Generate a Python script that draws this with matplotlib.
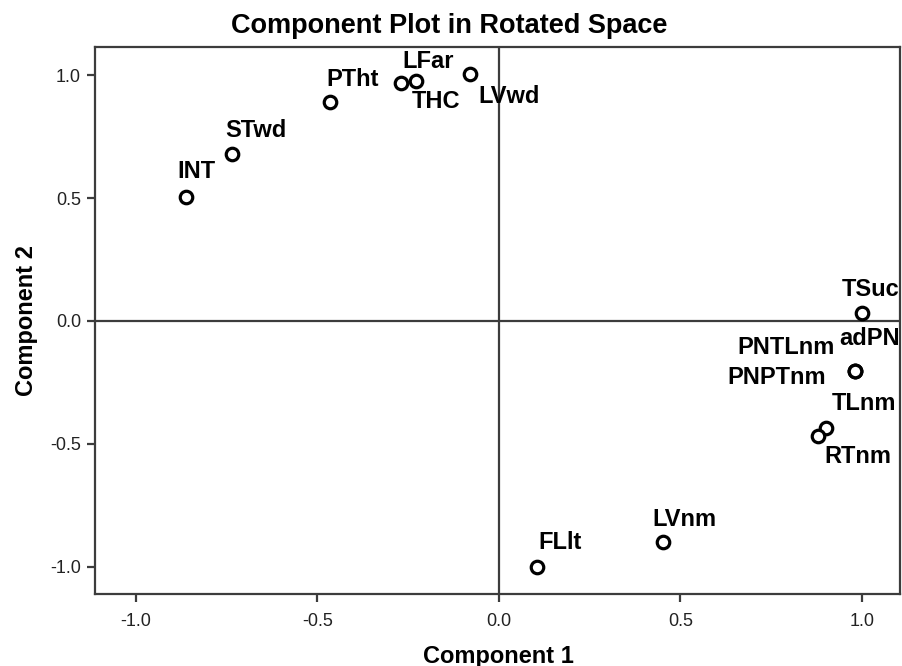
import matplotlib
matplotlib.use("Agg")
import matplotlib.pyplot as plt

# ---- data ----
names = ["INT", "STwd", "PTht", "LFar", "THC", "LVwd", "TSuc",
         "PNTLnm", "adPN", "PNPTnm", "TLnm", "RTnm", "FLlt", "LVnm"]
comp1 = [-0.863, -0.736, -0.466, -0.270, -0.229, -0.080, 0.999,
         0.981, 0.981, 0.981, 0.900, 0.880, 0.104, 0.451]
comp2 = [0.505, 0.679, 0.890, 0.969, 0.977, 1.003, 0.033,
         -0.202, -0.202, -0.202, -0.434, -0.467, -0.999, -0.897]
ticks = [-1.0, -0.5, 0.0, 0.5, 1.0]
tick_labels = ["-1.0", "-0.5", "0.0", "0.5", "1.0"]

# ---- label placement (pixel offsets from the marker, ha) ----
label_pos = {
    "INT": (-8, 25, "left"), "STwd": (-7, 23, "left"), "PTht": (-3, 23, "left"),
    "LFar": (1, 21, "left"), "THC": (-4, -21, "left"), "LVwd": (8, -22, "left"),
    "TSuc": (-20, 23, "left"), "PNTLnm": (-20, 23, "right"), "adPN": (-16, 32, "left"),
    "PNPTnm": (-29, -7, "right"), "TLnm": (6, 24, "left"), "RTnm": (6, -21, "left"),
    "FLlt": (2, 24, "left"), "LVnm": (-10, 22, "left"),
}

plt.rcParams["font.family"] = ["Liberation Sans", "DejaVu Sans"]
DPI = 100
fig = plt.figure(figsize=(9.02, 6.66), dpi=DPI)
ax = fig.add_axes([95 / 902, 1 - 594 / 666, (900 - 95) / 902, (594 - 47) / 666])

line_col = "#3c3c3c"
ax.axhline(0, color=line_col, lw=1.6, zorder=1)
ax.axvline(0, color=line_col, lw=1.6, zorder=1)

ax.plot(comp1, comp2, linestyle="none", marker="o", markersize=9,
        markerfacecolor="white", markeredgecolor="black", markeredgewidth=2.3, zorder=3)

px2pt = 72 / DPI
for n, x, y in zip(names, comp1, comp2):
    dx, dy, ha = label_pos[n]
    ax.annotate(n, (x, y), xytext=(dx * px2pt, dy * px2pt), textcoords="offset points",
                ha=ha, va="center", fontsize=17, fontweight="bold", color="black",
                annotation_clip=False, zorder=4)

ax.set_xlim(-1.113, 1.105)
ax.set_ylim(-1.11, 1.114)
ax.set_xticks(ticks)
ax.set_xticklabels(tick_labels)
ax.set_yticks(ticks)
ax.set_yticklabels(tick_labels)
ax.tick_params(axis="both", direction="out", length=6, width=1.6, color=line_col,
               labelsize=13, labelcolor="#222222", pad=4)
ax.tick_params(axis="x", pad=8)
for s in ax.spines.values():
    s.set_color(line_col)
    s.set_linewidth(1.6)

fig.text(449 / 902, 1 - 26 / 666, "Component Plot in Rotated Space", ha="center", va="center",
         fontsize=19.5, fontweight="bold")
fig.text(498 / 902, 1 - 656 / 666, "Component 1", ha="center", va="center",
         fontsize=17, fontweight="bold")
fig.text(27 / 902, 1 - 321 / 666, "Component 2", ha="center", va="center", rotation=90,
         fontsize=17, fontweight="bold")

fig.savefig("out.png", dpi=DPI)
